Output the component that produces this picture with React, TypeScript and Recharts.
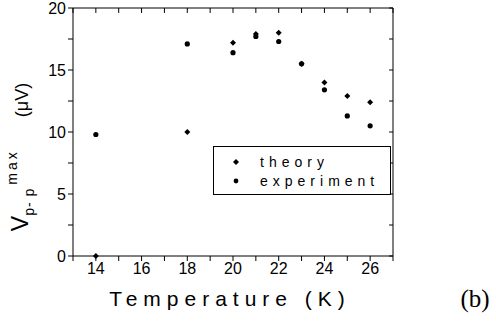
import { ScatterChart, Scatter, XAxis, YAxis, ReferenceLine, Legend } from 'recharts'

const temperatures = [14, 18, 20, 21, 22, 23, 24, 25, 26]
const theoryValues = [0, 10.0, 17.2, 17.9, 18.0, 15.5, 14.0, 12.9, 12.4]
const experimentValues = [9.8, 17.1, 16.4, 17.7, 17.3, 15.5, 13.4, 11.3, 10.5]

const xTicks = [13, 14, 15, 16, 17, 18, 19, 20, 21, 22, 23, 24, 25, 26, 27]
const yTicks = [0, 2.5, 5, 7.5, 10, 12.5, 15, 17.5, 20]

const theory = temperatures.map((t, i) => ({ t, v: theoryValues[i] }))
const experiment = temperatures.map((t, i) => ({ t, v: experimentValues[i] }))

const font = 'Arial, "Liberation Sans", sans-serif'
const axisColor = '#000'

const Diamond = (p: any) => (
  <path d={`M${p.cx} ${p.cy - 3} L${p.cx + 3} ${p.cy} L${p.cx} ${p.cy + 3} L${p.cx - 3} ${p.cy} Z`} fill="#000" />
)
const Dot = (p: any) => <circle cx={p.cx} cy={p.cy} r={2.6} fill="#000" />

function LegendBox() {
  return (
    <div
      style={{
        width: 178,
        height: 49,
        border: '1px solid #000',
        boxSizing: 'border-box',
        background: '#fff',
        fontFamily: font,
        fontSize: 14,
        letterSpacing: 5,
        color: '#000',
        paddingTop: 5,
      }}
    >
      {[
        { name: 'theory', shape: 'diamond' },
        { name: 'experiment', shape: 'circle' },
      ].map((row) => (
        <div key={row.name} style={{ display: 'flex', alignItems: 'center', height: 19 }}>
          <svg width={46} height={19}>
            {row.shape === 'circle' ? (
              <circle cx={22} cy={10} r={2.4} fill="#000" />
            ) : (
              <path d="M22 7 L25 10 L22 13 L19 10 Z" fill="#000" />
            )}
          </svg>
          <span>{row.name}</span>
        </div>
      ))}
    </div>
  )
}

export default function App() {
  return (
    <div style={{ position: 'absolute', left: 0, top: 0, width: 496, height: 322, background: '#fff' }}>
      <ScatterChart width={496} height={322} margin={{ top: 8, right: 103, bottom: 0, left: 0 }}>
        <XAxis
          type="number"
          dataKey="t"
          domain={[13, 27]}
          ticks={xTicks}
          interval={0}
          height={66}
          stroke={axisColor}
          tickSize={5}
          tickFormatter={(v: number) => (v % 2 === 0 ? String(v) : '')}
          tick={{ fill: '#000', fontSize: 16, fontFamily: font }}
          allowDataOverflow
        />
        <YAxis
          type="number"
          dataKey="v"
          domain={[0, 20]}
          ticks={yTicks}
          interval={0}
          width={73}
          stroke={axisColor}
          tickSize={5}
          tickFormatter={(v: number) => (v % 5 === 0 ? String(v) : '')}
          tick={{ fill: '#000', fontSize: 16, fontFamily: font }}
        />
        <ReferenceLine y={20} stroke={axisColor} />
        <ReferenceLine x={27} stroke={axisColor} />
        {xTicks.map((x) => (
          <ReferenceLine
            key={'tx' + x}
            segment={[{ x, y: 20 }, { x, y: 19.6 }]}
            stroke={axisColor}
          />
        ))}
        {yTicks.map((y) => (
          <ReferenceLine
            key={'ty' + y}
            segment={[{ x: 27, y }, { x: 26.83, y }]}
            stroke={axisColor}
          />
        ))}
        <Legend
          layout="vertical"
          align="center"
          verticalAlign="middle"
          wrapperStyle={{ position: 'absolute', left: 213, top: 146, width: 178 }}
          content={() => <LegendBox />}
        />
        <Scatter name="theory" data={theory} fill="#000" shape={Diamond} isAnimationActive={false} />
        <Scatter name="experiment" data={experiment} fill="#000" shape={Dot} isAnimationActive={false} />
      </ScatterChart>
      <svg
        width={496}
        height={322}
        style={{ position: 'absolute', left: 0, top: 0, pointerEvents: 'none' }}
      >
        <text
          transform="translate(28,157) rotate(-90)"
          textAnchor="middle"
          fontFamily={font}
          fill="#000"
        >
          <tspan fontSize={23}>V</tspan>
          <tspan fontSize={14} dy={6} letterSpacing={1}>p- p</tspan>
          <tspan fontSize={14} dy={-17} dx={3} letterSpacing={3}>max</tspan>
          <tspan fontSize={18} dy={11} dx={32}>(μV)</tspan>
        </text>
        <text x={230} y={306} textAnchor="middle" fontFamily={font} fontSize={21} letterSpacing={6} fill="#000">
          Temperature (K)
        </text>
        <text x={475} y={307} textAnchor="middle" fontFamily='"Liberation Serif", "DejaVu Serif", serif' fontSize={25} fill="#000">
          (b)
        </text>
      </svg>
    </div>
  )
}
